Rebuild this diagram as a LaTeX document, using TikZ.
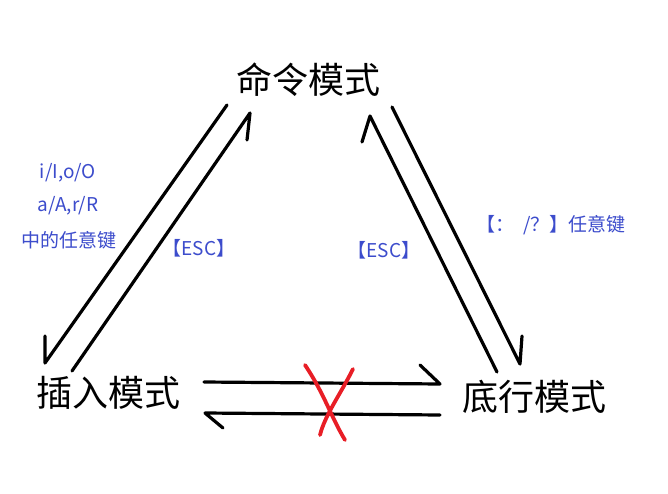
\documentclass[tikz,border=0pt]{standalone}
\usepackage{fontspec}
\newfontfamily\cjk{Noto Sans CJK SC}
\definecolor{lblue}{RGB}{60,76,204}
\definecolor{xred}{RGB}{232,30,38}
\begin{document}
\begin{tikzpicture}[x=1pt,y=-1pt,
  mode/.style={font=\cjk\fontsize{36}{40}\selectfont, inner sep=0pt},
  lbl/.style={font=\cjk\fontsize{19}{22}\selectfont, text=lblue, inner sep=0pt},
  stroke/.style={line width=3.2pt, line cap=round, line join=round},
  xstroke/.style={line width=3.8pt, line cap=round, xred}]
\useasboundingbox (0,0) rectangle (668,494);
\fill[white] (0,0) rectangle (668,494);
\node[mode] (cmd) at (308,80) {命令模式};
\node[mode] (ins) at (108,393) {插入模式};
\node[mode] (bot) at (534,397) {底行模式};
% left side
\coordinate (l1a) at (227,105);
\coordinate (l1b) at (45,363);
\coordinate (l1c) at (45,336);
\draw[stroke] (l1a) -- (l1b) -- (l1c);
\coordinate (l2a) at (72,371);
\coordinate (l2b) at (250,113);
\coordinate (l2c) at (247,140);
\draw[stroke] (l2a) -- (l2b) -- (l2c);
% right side
\coordinate (r1a) at (497,372);
\coordinate (r1b) at (370,116);
\coordinate (r1c) at (362,142);
\draw[stroke] (r1a) -- (r1b) -- (r1c);
\coordinate (r2a) at (392,107);
\coordinate (r2b) at (520,364);
\coordinate (r2c) at (522,336);
\draw[stroke] (r2a) -- (r2b) -- (r2c);
% bottom
\coordinate (b1a) at (204,382);
\coordinate (b1b) at (440,384);
\coordinate (b1c) at (420,365);
\draw[stroke] (b1a) -- (b1b) -- (b1c);
\coordinate (b2a) at (440,415);
\coordinate (b2b) at (205,413);
\coordinate (b2c) at (223,428);
\draw[stroke] (b2a) -- (b2b) -- (b2c);
% red X
\coordinate (xa) at (305,365);
\coordinate (xb) at (345,440);
\coordinate (xc) at (353,369);
\coordinate (xd) at (320,435);
\draw[xstroke] (xa) .. controls (325,395) and (330,415) .. (xb);
\draw[xstroke] (xc) .. controls (340,395) and (325,415) .. (xd);
% labels
\node[lbl] (t1) at (68,173) {i/I,o/O};
\node[lbl] (t2) at (68,206) {a/A,r/R};
\node[lbl] (t3) at (69,240) {中的任意键};
\node[lbl] (esc1) at (199,248) {【ESC】};
\node[lbl] (esc2) at (384,250) {【ESC】};
\node[lbl] (t4) at (551,225) {【：\ \ /？】任意键};
\end{tikzpicture}
\end{document}
